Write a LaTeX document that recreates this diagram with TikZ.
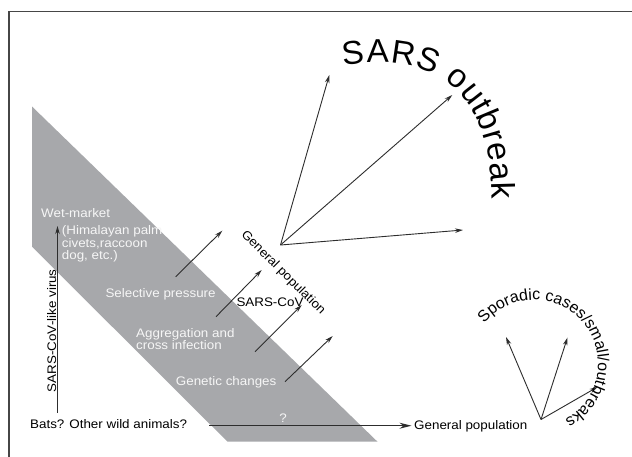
\documentclass[tikz,border=0pt]{standalone}
\usepackage{fontspec}
\setmainfont{Liberation Sans}[FakeStretch=1.08]
\newfontfamily\bigfont{Liberation Sans}
\usetikzlibrary{arrows.meta,decorations.text}
\definecolor{band}{RGB}{167,168,171}
\definecolor{ink}{RGB}{45,45,45}
\definecolor{framec}{RGB}{70,70,70}
\definecolor{wtext}{RGB}{246,246,246}
\begin{document}
\begin{tikzpicture}[x=1pt,y=-1pt,
  lbl/.style={inner sep=0pt, font=\fontsize{12.4}{12.3}\selectfont, text=black},
  wlbl/.style={lbl, text=wtext},
  arr/.style={draw=ink, line width=0.9pt, -{Stealth[length=8pt,width=4.5pt]}},
  harr/.style={draw=ink, line width=1.3pt, -{Stealth[length=12pt,width=6pt]}},
]
\useasboundingbox (0,0) rectangle (632,456);
\fill[white] (0,0) rectangle (632,456);
\draw[framec, line width=1.2pt] (9,460) -- (9,11.5) -- (640,11.5);
\fill[band] (32,106.5) -- (377.5,441.7) -- (227.5,441.7) -- (32,246.7) -- cycle;

% labels
\node[wlbl, anchor=base west] (wet) at (41,217.3) {Wet-market};
\node[wlbl, anchor=base west, align=left] (host) at (61.7,259.3) {(Himalayan palm\\civets,raccoon\\dog, etc.)};
\node[wlbl, anchor=base west] (sel) at (105.3,297) {Selective pressure};
\node[wlbl, anchor=base west, align=left] (agg) at (136,349.3) {Aggregation and\\cross infection};
\node[wlbl, anchor=base west] (gen) at (175.7,385) {Genetic changes};
\node[wlbl, anchor=base] (q) at (283,422) {?};
\node[lbl, anchor=base west] (bats) at (30,428.7) {Bats? Other wild animals?};
\node[lbl, anchor=base west] (gp) at (414,429) {General population};
\node[lbl, anchor=base west] (cov) at (236.3,306.7) {SARS-CoV};
\node[lbl, anchor=base, rotate=-45] (gp2) at (280.8,275.2) {General population};
\node[lbl, anchor=base, rotate=90] (virus) at (56,330.7) {SARS-CoV-like virus};

% coordinates
\coordinate (v0) at (57.5,412.7);
\coordinate (v1) at (57.5,226);
\coordinate (h0) at (209,425.7);
\coordinate (a1s) at (175.7,276.7); \coordinate (a1e) at (222.3,230.7);
\coordinate (a2s) at (216,316.7);   \coordinate (a2e) at (261.7,270);
\coordinate (a3s) at (255,351.7);   \coordinate (a3e) at (301.7,305);
\coordinate (a4s) at (285,381.7);   \coordinate (a4e) at (332.7,336);
\coordinate (fan) at (280.5,245);
\coordinate (f1) at (329.3,75);
\coordinate (f2) at (452.3,95);
\coordinate (f3) at (463,230);
\coordinate (fan2) at (541,419.5);
\coordinate (g1) at (506,337);
\coordinate (g2) at (567.5,337.5);
\coordinate (g3) at (597.5,387);

% connectors
\draw[arr] (v0) -- (v1);
\draw[harr, shorten >=2.5pt] (h0) -- (h0 -| gp.west);
\draw[arr] (a1s) -- (a1e);
\draw[arr] (a2s) -- (a2e);
\draw[arr] (a3s) -- (a3e);
\draw[arr] (a4s) -- (a4e);
\draw[arr] (fan) -- (f1);
\draw[arr] (fan) -- (f2);
\draw[arr] (fan) -- (f3);
\draw[arr] (fan2) -- (g1);
\draw[arr] (fan2) -- (g2);
\draw[arr] (fan2) -- (g3);

% curved titles
\coordinate (t0) at (344,66);
\coordinate (t1) at (492,199);
\path[decorate, decoration={text effects along path, text={SARS outbreak},
  text effects/.cd, text along path, fit text to path,
  characters={font=\bigfont\fontsize{33}{36}\selectfont, text=black}}]
  (t0) .. controls (440,50) and (492,95) .. (t1);
\path[decorate, decoration={text along path, text align=left,
  text={|\bigfont\fontsize{16}{18}\selectfont|Sporadic cases/small/outbreaks}}]
  ([shift={(-141:64)}]534,364) arc (-141:100:64);
\end{tikzpicture}
\end{document}
